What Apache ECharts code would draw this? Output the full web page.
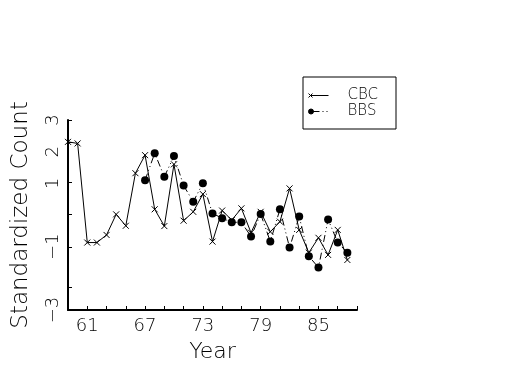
<!DOCTYPE html>
<html>
<head>
<meta charset="utf-8">
<script src="https://cdn.jsdelivr.net/npm/echarts@6/dist/echarts.min.js"></script>
<style>html,body{margin:0;padding:0;background:#fff;}#c{width:525px;height:375px;}</style>
</head>
<body>
<div id="c"></div>
<script>
// Data
var cbcYears = [59,60,61,62,63,64,65,66,67,68,69,70,71,72,73,74,75,76,77,78,79,80,81,82,83,84,85,86,87,88];
var cbcValues = [2.31,2.26,-0.87,-0.87,-0.63,0.02,-0.34,1.32,1.89,0.18,-0.35,1.6,-0.18,0.1,0.66,-0.84,0.14,-0.16,0.21,-0.56,0.1,-0.53,-0.21,0.84,-0.47,-1.19,-0.72,-1.26,-0.47,-1.42];
var bbsYears = [67,68,69,70,71,72,73,74,75,76,77,78,79,80,81,82,83,84,85,86,87,88];
var bbsValues = [1.1,1.95,1.21,1.86,0.93,0.42,1.0,0.05,-0.1,-0.23,-0.23,-0.68,0.03,-0.84,0.18,-1.03,-0.05,-1.3,-1.66,-0.14,-0.87,-1.19];
var xTickLabels = [61,67,73,79,85];
var yTickLabels = [3,2,1,-1,-3];
var yTickValues = [3,2.31,1.05,0.03,-1.02,-2.28];

function pairs(xs, ys){ return xs.map(function(x,i){ return [x, ys[i]]; }); }

var FONT = '"DejaVu Sans", sans-serif';
var cbcIcon = 'path://M0,0L0,0M20,8L20,8M0,2L4,6M4,2L0,6M2,4L20,4';
var bbsIcon = 'path://M0,0L0,0M20,8L20,8M0,4A2.5,2.5 0 1,1 5,4A2.5,2.5 0 1,1 0,4ZM2.5,4L11,4M14,4L15,4M18,4L19,4';

var chart = echarts.init(document.getElementById('c'), null, {renderer:'canvas'});
chart.setOption({
  animation: false,
  backgroundColor: '#fff',
  textStyle: {fontFamily: FONT, color: '#000'},
  grid: {left: 68, right: 168, top: 120, bottom: 65, containLabel: false},
  legend: {
    left: 303, top: 77, orient: 'vertical',
    borderColor: '#000', borderWidth: 1,
    padding: [11, 18, 10, 5],
    itemWidth: 20, itemHeight: 8, itemGap: 1,
    symbolKeepAspect: false,
    itemStyle: {color: '#000', borderColor: '#000', borderWidth: 1},
    textStyle: {fontFamily: FONT, fontSize: 15, fontWeight: 200, color: '#000', padding: [0,0,0,14]},
    data: [{name: 'CBC', icon: cbcIcon}, {name: 'BBS', icon: bbsIcon}]
  },
  xAxis: {
    type: 'value', min: 59, max: 89, interval: 2,
    name: 'Year', nameLocation: 'middle', nameGap: 31,
    nameTextStyle: {fontFamily: FONT, fontSize: 22, fontWeight: 200, color: '#000'},
    axisLine: {onZero: false, lineStyle: {color: '#000', width: 2}},
    axisTick: {inside: true, length: 4, lineStyle: {color: '#000', width: 1}},
    axisLabel: {customValues: xTickLabels, margin: 7, fontSize: 18, fontWeight: 200, color: '#000', fontFamily: FONT},
    splitLine: {show: false}
  },
  yAxis: {
    type: 'value', min: -3, max: 3,
    name: 'Standardized Count', nameLocation: 'middle', nameGap: 35,
    nameTextStyle: {fontFamily: FONT, fontSize: 23, fontWeight: 200, color: '#000'},
    axisLine: {onZero: false, lineStyle: {color: '#000', width: 2}},
    axisTick: {inside: true, length: 4, customValues: yTickValues, lineStyle: {color: '#000', width: 1}},
    axisLabel: {customValues: yTickLabels, rotate: 90, margin: 6, fontSize: 18, fontWeight: 200, color: '#000', fontFamily: FONT,
      formatter: function(v){ return (v < 0 ? '\u2212' + Math.abs(v) : String(v)); }},
    splitLine: {show: false}
  },
  series: [
    {
      name: 'CBC', type: 'line', data: pairs(cbcYears, cbcValues),
      symbol: 'path://M0,0L10,10M10,0L0,10', symbolSize: 6,
      lineStyle: {color: '#000', width: 1},
      itemStyle: {color: '#000', borderColor: '#000', borderWidth: 1}
    },
    {
      name: 'BBS', type: 'line', data: pairs(bbsYears, bbsValues),
      symbol: 'circle', symbolSize: 8,
      lineStyle: {color: '#000', width: 1, type: [7,3,1,3,1,3]},
      itemStyle: {color: '#000'}
    }
  ]
});
</script>
</body>
</html>
